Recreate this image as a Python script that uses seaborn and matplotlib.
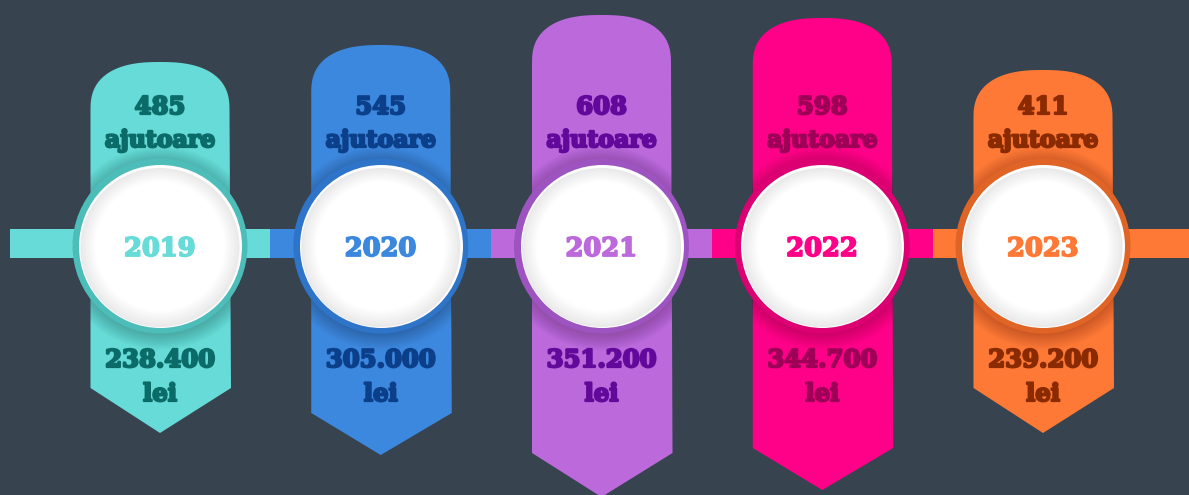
import numpy as np
import pandas as pd
import matplotlib
matplotlib.use("Agg")
import matplotlib.pyplot as plt
from matplotlib.patches import Polygon, Rectangle, Ellipse
import matplotlib.patheffects as pe
import seaborn as sns

# ---- data ----
years = ["2019", "2020", "2021", "2022", "2023"]
ajutoare = [485, 545, 608, 598, 411]
lei = ["238.400", "305.000", "351.200", "344.700", "239.200"]

# ---- style ----
col_main = ["#66dbd7", "#3d88df", "#bb69db", "#ff0088", "#fe7936"]
col_ring = ["#4cbdb9", "#2e74c8", "#9e54c0", "#dc0072", "#e06425"]
col_text = ["#0b6b69", "#0b3f8a", "#62089a", "#9e0058", "#8a2a00"]
bg = "#37444f"

# pillar layout (pixel rows): top of dome, end of straight sides, arrow tip
pillar_top = [62, 45, 15, 18, 70]
pillar_side_end = [388, 413, 453, 448, 388]
pillar_tip = [433, 455, 497, 490, 433]

W, H, DPI = 1189, 495, 100
PX = 220.75  # pixels per category step
X0 = 160     # pixel x of first category

sns.set_theme(style="white")
fig = plt.figure(figsize=(W / DPI, H / DPI), dpi=DPI, facecolor=bg)
ax = fig.add_axes([0, 0, 1, 1])
ax.set_facecolor(bg)
ax.set_xlim(-X0 / PX, (W - X0) / PX)
ax.set_ylim(H, 0)
ax.axis("off")

def ux(px):
    return px / PX

n = len(years)
xs = np.arange(n)
cy = 246

# horizontal band
edges = [ux(10) - X0 / PX] + [i + 0.5 for i in range(n - 1)] + [(W - X0) / PX + 0.1]
for i in range(n):
    ax.add_patch(Rectangle((edges[i], 229), edges[i + 1] - edges[i], 29,
                           facecolor=col_main[i], edgecolor="none", zorder=1))

# pillars
hw = 69.5
dome_h = 48
pillars = []
for i in range(n):
    xc = xs[i]
    pts = []
    t = np.linspace(np.pi, 0, 100)
    p = 0.8
    for tt in t:
        c, s = np.cos(tt), np.sin(tt)
        dx = np.sign(c) * abs(c) ** p * hw
        dy = dome_h * (1 - abs(s) ** p)
        pts.append((xc + ux(dx), pillar_top[i] + dy))
    pts.append((xc + ux(hw + 1.5), pillar_side_end[i]))
    pts.append((xc, pillar_tip[i]))
    pts.append((xc - ux(hw), pillar_side_end[i]))
    poly = Polygon(pts, closed=True, facecolor=col_main[i],
                   edgecolor="none", zorder=2)
    ax.add_patch(poly)
    pillars.append(poly)

# soft shadow around rings, clipped to the pillar shapes
for i in range(n):
    for r in np.arange(102, 86, -1.0):
        sh = Ellipse((xs[i], cy + 2), ux(2 * r), 2 * r, facecolor="black",
                     alpha=0.013, edgecolor="none", zorder=3)
        ax.add_patch(sh)
        sh.set_clip_path(pillars[i])

# rings and discs via seaborn scatter (marker sizes in points^2)
def s_of(r):
    return (2 * r * 72 / DPI) ** 2

df = pd.DataFrame({"x": xs, "y": [cy] * n, "year": years})
sns.scatterplot(data=df, x="x", y="y", hue="year", palette=col_ring,
                s=s_of(87.5), linewidth=0, legend=False, ax=ax, zorder=4)
sns.scatterplot(data=df, x="x", y="y", color="#fdfdfd", s=s_of(81.5),
                linewidth=0, legend=False, ax=ax, zorder=5)

# gradient inside white disc
shades = np.linspace(0, 1, 16)
for k, f in enumerate(shades):
    r = 79.5 - k * 1.0
    g = 0.915 + 0.085 * f
    for i in range(n):
        ax.add_patch(Ellipse((xs[i], cy + 1.5 * (1 - f)), ux(2 * r), 2 * r,
                             facecolor=(g, g, g), edgecolor="none", zorder=6))

# texts
fnt = dict(family="DejaVu Serif", weight="bold")
for i in range(n):
    stroke = [pe.withStroke(linewidth=1.6, foreground=col_text[i])]
    ax.text(xs[i], 114, str(ajutoare[i]), ha="center", va="baseline",
            fontsize=17.5, color=col_text[i], zorder=7, path_effects=stroke, **fnt)
    ax.text(xs[i], 147, "ajutoare", ha="center", va="baseline",
            fontsize=17, color=col_text[i], zorder=7, path_effects=stroke, **fnt)
    ax.text(xs[i], 367, lei[i], ha="center", va="baseline",
            fontsize=17.5, color=col_text[i], zorder=7, path_effects=stroke, **fnt)
    ax.text(xs[i], 401, "lei", ha="center", va="baseline",
            fontsize=17.5, color=col_text[i], zorder=7, path_effects=stroke, **fnt)
    ystroke = [pe.withStroke(linewidth=1.3, foreground=col_main[i])]
    ax.text(xs[i], 256, years[i], ha="center", va="baseline",
            fontsize=18.5, color=col_main[i], zorder=7, path_effects=ystroke, **fnt)

fig.savefig("out.png", dpi=DPI, facecolor=bg)
